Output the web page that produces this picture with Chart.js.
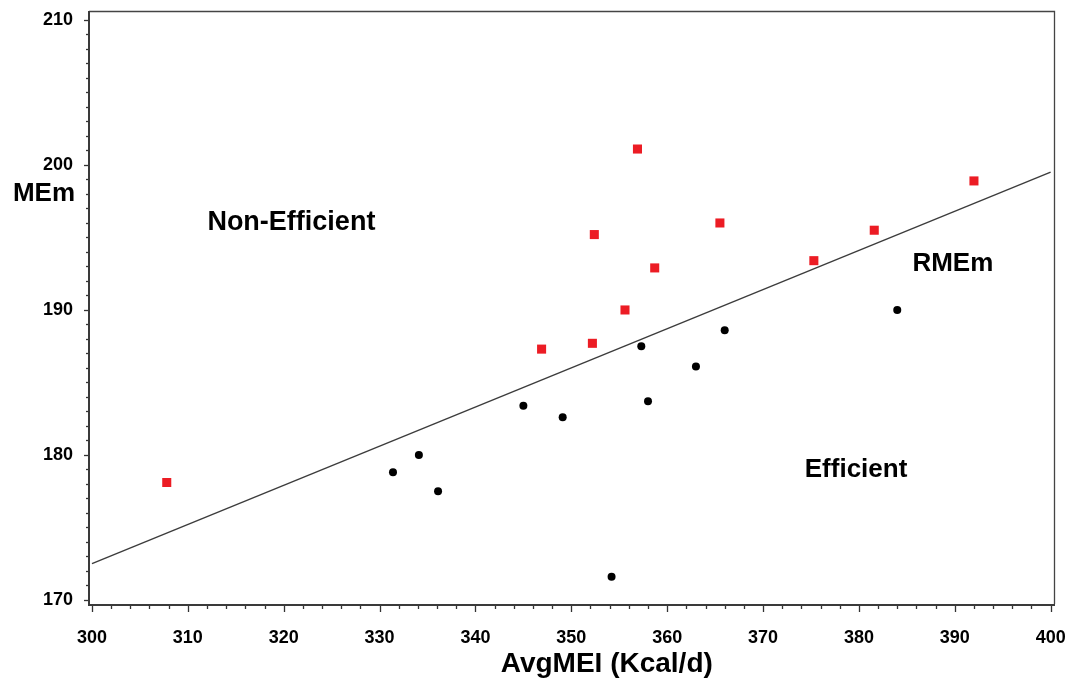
<!DOCTYPE html>
<html>
<head>
<meta charset="utf-8">
<title>MEm vs AvgMEI</title>
<script src="https://cdn.jsdelivr.net/npm/chart.js@4/dist/chart.umd.min.js"></script>
<style>
  html, body { margin: 0; padding: 0; background: #ffffff; }
  canvas { display: block; }
</style>
</head>
<body>
<canvas id="chart" width="1070" height="679"></canvas>
<script>
// Efficient animals (below the regression line)
const effX = [331.4, 334.1, 336.1, 345.0, 349.1, 354.2, 357.3, 358.0, 363.0, 366.0, 384.0];
const effY = [178.8, 180.0, 177.5, 183.4, 182.6, 171.6, 187.5, 183.7, 186.1, 188.6, 190.0];

// Non-efficient animals (above the regression line)
const nonEffX = [307.8, 346.9, 352.2, 352.4, 355.6, 356.9, 358.7, 365.5, 375.3, 381.6, 392.0];
const nonEffY = [178.1, 187.3, 187.7, 195.2, 190.0, 201.1, 192.9, 196.0, 193.4, 195.5, 198.9];

// Fitted RMEm regression line end points
const fitX = [300, 400];
const fitY = [172.5, 199.5];

// Tick labels
const xTicks = [300, 310, 320, 330, 340, 350, 360, 370, 380, 390, 400];
const yTicks = [170, 180, 190, 200, 210];

// Text placed in the plot, in axis units
const noteText = ['Non-Efficient', 'Efficient', 'RMEm'];
const noteX = [320.8, 379.7, 389.8];
const noteY = [196.0, 179.0, 193.2];

const pts = (xs, ys) => xs.map((x, i) => ({ x: x, y: ys[i] }));

const FONT = '"Liberation Sans", Arial, sans-serif';

const framePlugin = {
  id: 'frameAndTicks',
  afterDraw(chart) {
    const { ctx, chartArea: a, scales } = chart;
    const xs = scales.x, ys = scales.y;
    ctx.save();
    // minor / major ticks on x
    ctx.strokeStyle = '#333';
    ctx.lineWidth = 1.3;
    for (let v = 300; v <= 400; v += 2) {
      const px = Math.round(xs.getPixelForValue(v)) + 0.5;
      const len = (v % 10 === 0) ? 8 : 5;
      ctx.beginPath();
      ctx.moveTo(px, a.bottom);
      ctx.lineTo(px, a.bottom + len);
      ctx.stroke();
    }
    // minor / major ticks on y
    for (let v = 170; v <= 210; v += 1) {
      const py = Math.round(ys.getPixelForValue(v)) + 0.5;
      const len = (v % 10 === 0) ? 5 : 3;
      ctx.beginPath();
      ctx.moveTo(a.left, py);
      ctx.lineTo(a.left - len, py);
      ctx.stroke();
    }
    // frame: thin top/right, heavier left/bottom axes
    ctx.strokeStyle = '#444';
    ctx.lineWidth = 1.3;
    ctx.beginPath();
    ctx.moveTo(a.left, a.top + 0.5);
    ctx.lineTo(a.right + 0.5, a.top + 0.5);
    ctx.lineTo(a.right + 0.5, a.bottom);
    ctx.stroke();
    ctx.strokeStyle = '#3a3a3a';
    ctx.lineWidth = 2;
    ctx.beginPath();
    ctx.moveTo(a.left, a.top);
    ctx.lineTo(a.left, a.bottom + 1);
    ctx.lineTo(a.right + 1, a.bottom + 1);
    ctx.stroke();

    // in-plot labels
    ctx.fillStyle = '#000';
    ctx.textAlign = 'center';
    ctx.textBaseline = 'middle';
    noteText.forEach((t, i) => {
      ctx.font = 'bold ' + (i === 0 ? 27 : 26) + 'px ' + FONT;
      ctx.fillText(t, xs.getPixelForValue(noteX[i]), ys.getPixelForValue(noteY[i]));
    });

    // axis titles
    ctx.font = 'bold 26px ' + FONT;
    ctx.fillText('MEm', a.left - 45, ys.getPixelForValue(198));
    ctx.font = 'bold 28px ' + FONT;
    ctx.textBaseline = 'alphabetic';
    ctx.fillText('AvgMEI (Kcal/d)', xs.getPixelForValue(353.7), 671.5);
    ctx.restore();
  }
};

new Chart(document.getElementById('chart'), {
  type: 'scatter',
  data: {
    datasets: [
      {
        label: 'RMEm',
        type: 'line',
        data: pts(fitX, fitY),
        borderColor: '#3c3c3c',
        borderWidth: 1.4,
        pointRadius: 0,
        fill: false,
        order: 3
      },
      {
        label: 'Efficient',
        data: pts(effX, effY),
        pointStyle: 'circle',
        pointRadius: 4,
        backgroundColor: '#000000',
        borderColor: '#000000',
        borderWidth: 0,
        order: 2
      },
      {
        label: 'Non-Efficient',
        data: pts(nonEffX, nonEffY),
        pointStyle: 'rect',
        pointRadius: 6.4,
        backgroundColor: '#ec1c24',
        borderColor: '#ec1c24',
        borderWidth: 0,
        order: 1
      }
    ]
  },
  options: {
    responsive: false,
    animation: false,
    devicePixelRatio: 1,
    layout: { padding: { top: 11, right: 16, left: 0, bottom: 0 } },
    plugins: {
      legend: { display: false },
      tooltip: { enabled: false },
      title: { display: false }
    },
    scales: {
      x: {
        type: 'linear',
        min: 299.69,
        max: 400.35,
        grid: { display: false },
        border: { display: false },
        afterBuildTicks: (s) => { s.ticks = xTicks.map(v => ({ value: v })); },
        afterFit: (s) => { s.height = 75; s.paddingLeft = 0; s.paddingRight = 0; },
        ticks: {
          color: '#000',
          padding: 15,
          maxRotation: 0,
          font: { family: FONT, size: 18, weight: 'bold' }
        }
      },
      y: {
        type: 'linear',
        min: 169.72,
        max: 210.62,
        grid: { display: false },
        border: { display: false },
        afterBuildTicks: (s) => { s.ticks = yTicks.map(v => ({ value: v })); },
        afterFit: (s) => { s.width = 89; s.paddingTop = 0; s.paddingBottom = 0; },
        ticks: {
          color: '#000',
          padding: 8,
          font: { family: FONT, size: 18, weight: 'bold' }
        }
      }
    }
  },
  plugins: [framePlugin]
});
</script>
</body>
</html>
